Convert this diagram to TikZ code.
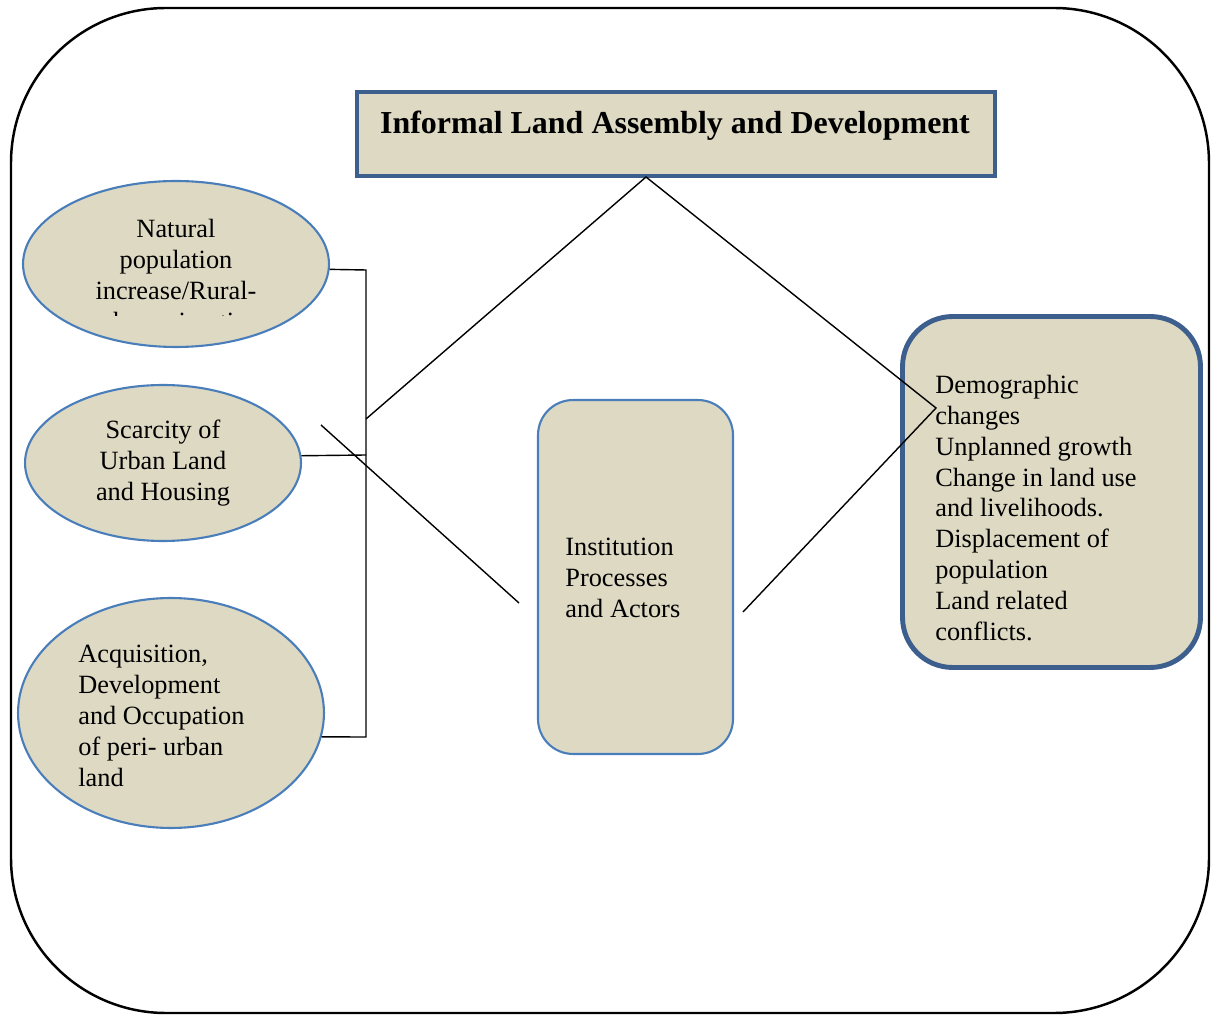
\documentclass[tikz,border=0pt]{standalone}
\usepackage{fontspec}
\setmainfont{Liberation Serif}
\usetikzlibrary{shapes.geometric}
\definecolor{khaki}{HTML}{DDD9C3}
\definecolor{lightblue}{HTML}{4A7EBB}
\definecolor{darkblue}{HTML}{3C5F8E}

\begin{document}
\begin{tikzpicture}[x=0.02cm, y=-0.02cm,
  every node/.style = {font=\fontsize{15}{17.6}\selectfont, inner sep=0pt},
  oval/.style  = {ellipse, draw=lightblue, line width=1.2pt, fill=khaki},
  panel/.style = {rectangle, draw=lightblue, line width=1.2pt,
    fill=khaki, rounded corners=0.7cm},
  heavy/.style = {rectangle, draw=darkblue, line width=2.4pt, fill=khaki},
  link/.style  = {line width=0.8pt}]
\useasboundingbox (0,0) rectangle (1211,1016);
% outer frame
\draw[line width=1.4pt, rounded corners=3.1cm] (11,8) rectangle (1209,1013);

% title
\node[heavy, minimum width=12.76cm, minimum height=1.68cm] (title) at (676,134) {};
\node[font=\fontsize{18.2}{21.8}\selectfont\bfseries] (titletxt) at (675,126)
  {Informal Land Assembly and Development};

% causes
\node[oval, minimum width=6.12cm, minimum height=3.32cm] (natural) at (176,264) {};
\begin{scope}
  \clip (0,0) rectangle (1211,316);
  \node[align=center] (naturaltxt) at (176,278)
    {Natural\\population\\increase/Rural-\\urban migration};
\end{scope}
\node[oval, minimum width=5.52cm, minimum height=3.12cm] (scarcity) at (163,463) {};
\node[align=center] (scarcitytxt) at (163,463) {Scarcity of\\Urban Land\\and Housing};
\node[oval, minimum width=6.12cm, minimum height=4.6cm] (acquisition) at (171,713) {};
\node[align=left, anchor=west] (acquisitiontxt) at (78,716)
  {Acquisition,\\Development\\and Occupation\\of peri- urban\\land};

% institutions
\node[panel, minimum width=3.9cm, minimum height=7.08cm] (inst) at (635.5,577) {};
\node[align=left, anchor=west] (insttxt) at (565,578)
  {Institution\\Processes\\and Actors};

% effects
\node[heavy, line width=2.8pt, rounded corners=1cm,
  minimum width=5.96cm, minimum height=7.02cm] (effects) at (1051.5,492) {};
\node[align=left, anchor=west] (effectstxt) at (935,508)
  {Demographic\\changes\\Unplanned growth\\Change in land use\\and livelihoods.\\Displacement of\\population\\Land related\\conflicts.};

% connectors
\coordinate (btop) at (366,270);
\coordinate (bmid) at (366,455);
\coordinate (bjoin) at (366,419);
\coordinate (bbot) at (366,737);
\coordinate (apex) at (646,177);
\coordinate (tip) at (936,408);
\coordinate (instr) at (743,612);
\coordinate (crossa) at (321,425);
\coordinate (instl) at (519,603);

\draw[link] (natural.-2) -- (btop) -- (bbot) -- (acquisition.-9);
\draw[link] (scarcity.3) -- (bmid);
\draw[link] (bjoin) -- (apex) -- (tip) -- (instr);
\draw[link] (crossa) -- (instl);
\end{tikzpicture}
\end{document}
